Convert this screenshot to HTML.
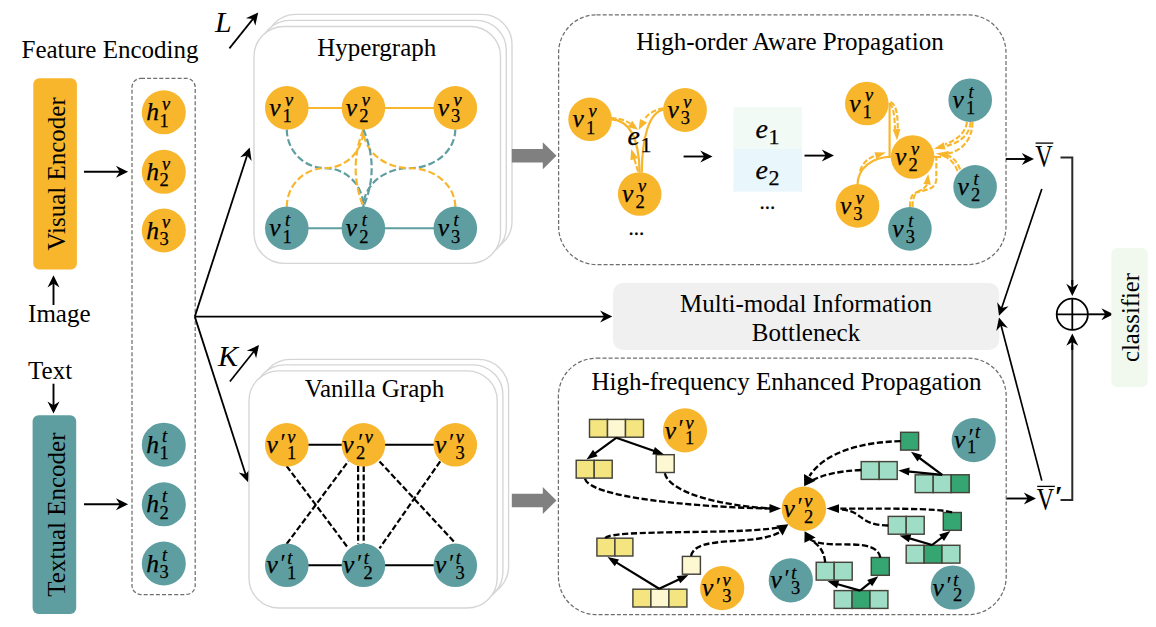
<!DOCTYPE html>
<html><head><meta charset="utf-8"><title>Framework</title>
<style>html,body{margin:0;padding:0;background:#fff}svg{display:block}</style></head>
<body>
<svg width="1156" height="627" viewBox="0 0 1156 627" font-family="'Liberation Serif', serif" fill="#000">
<rect width="1156" height="627" fill="#fff"/>
<text x="21.5" y="57.8" font-size="25">Feature Encoding</text>
<rect x="33.3" y="78.3" width="43.6" height="191.1" rx="6" fill="#F8B62D"/>
<text transform="translate(65.2,173.9) rotate(-90)" text-anchor="middle" font-size="25">Visual Encoder</text>
<rect x="32.6" y="415.2" width="43.6" height="198.8" rx="6" fill="#5F9EA0"/>
<text transform="translate(64.9,514.6) rotate(-90)" text-anchor="middle" font-size="25">Textual Encoder</text>
<rect x="132" y="78.3" width="63.2" height="516.2" rx="9" fill="none" stroke="#6e6e6e" stroke-width="1.25" stroke-dasharray="4,2.1"/>
<circle cx="163.8" cy="112.3" r="22.0" fill="#F8B62D"/>
<text x="146.2" y="120.4" font-size="25.5" font-style="italic" stroke="#000" stroke-width="0.25">h</text>
<text x="162.1" y="110.0" font-size="18.4" font-style="italic" stroke="#000" stroke-width="0.25">v</text>
<text x="159.6" y="126.5" font-size="18.5" stroke="#000" stroke-width="0.25">1</text>
<circle cx="163.8" cy="171.8" r="22.0" fill="#F8B62D"/>
<text x="146.2" y="179.9" font-size="25.5" font-style="italic" stroke="#000" stroke-width="0.25">h</text>
<text x="162.1" y="169.5" font-size="18.4" font-style="italic" stroke="#000" stroke-width="0.25">v</text>
<text x="159.6" y="186.0" font-size="18.5" stroke="#000" stroke-width="0.25">2</text>
<circle cx="163.8" cy="230.5" r="22.0" fill="#F8B62D"/>
<text x="146.2" y="238.6" font-size="25.5" font-style="italic" stroke="#000" stroke-width="0.25">h</text>
<text x="162.1" y="228.2" font-size="18.4" font-style="italic" stroke="#000" stroke-width="0.25">v</text>
<text x="159.6" y="244.7" font-size="18.5" stroke="#000" stroke-width="0.25">3</text>
<circle cx="163.8" cy="444.7" r="22.0" fill="#5F9EA0"/>
<text x="146.2" y="452.8" font-size="25.5" font-style="italic" stroke="#000" stroke-width="0.25">h</text>
<text x="162.1" y="442.4" font-size="18.4" font-style="italic" stroke="#000" stroke-width="0.25">t</text>
<text x="159.6" y="458.9" font-size="18.5" stroke="#000" stroke-width="0.25">1</text>
<circle cx="163.8" cy="504.3" r="22.0" fill="#5F9EA0"/>
<text x="146.2" y="512.4" font-size="25.5" font-style="italic" stroke="#000" stroke-width="0.25">h</text>
<text x="162.1" y="502.0" font-size="18.4" font-style="italic" stroke="#000" stroke-width="0.25">t</text>
<text x="159.6" y="518.5" font-size="18.5" stroke="#000" stroke-width="0.25">2</text>
<circle cx="163.8" cy="563.5" r="22.0" fill="#5F9EA0"/>
<text x="146.2" y="571.6" font-size="25.5" font-style="italic" stroke="#000" stroke-width="0.25">h</text>
<text x="162.1" y="561.2" font-size="18.4" font-style="italic" stroke="#000" stroke-width="0.25">t</text>
<text x="159.6" y="577.7" font-size="18.5" stroke="#000" stroke-width="0.25">3</text>
<line x1="84.0" y1="171.7" x2="120.8" y2="171.7" stroke="#000" stroke-width="2.1"/>
<polygon points="128.1,171.7 115.9,177.7 119.8,171.7 115.9,165.7" fill="#000"/>
<line x1="84.0" y1="504.3" x2="120.8" y2="504.3" stroke="#000" stroke-width="2.1"/>
<polygon points="128.1,504.3 115.9,510.3 119.8,504.3 115.9,498.3" fill="#000"/>
<line x1="53.5" y1="305.0" x2="53.5" y2="282.6" stroke="#000" stroke-width="1.9"/>
<polygon points="53.5,275.3 59.5,287.5 53.5,283.6 47.5,287.5" fill="#000"/>
<text x="28.1" y="321.9" font-size="25">Image</text>
<text x="28.1" y="379.2" font-size="25">Text</text>
<line x1="53.5" y1="383.7" x2="53.5" y2="406.3" stroke="#000" stroke-width="1.9"/>
<polygon points="53.5,413.6 47.5,401.4 53.5,405.3 59.5,401.4" fill="#000"/>
<line x1="194.8" y1="316.6" x2="247.4" y2="154.5" stroke="#000" stroke-width="1.8"/>
<polygon points="249.7,147.5 251.6,161.0 247.1,155.4 240.2,157.3" fill="#000"/>
<line x1="194.8" y1="316.6" x2="245.9" y2="475.2" stroke="#000" stroke-width="1.8"/>
<polygon points="248.1,482.2 238.7,472.4 245.6,474.3 250.1,468.7" fill="#000"/>
<line x1="194.8" y1="316.6" x2="605.0" y2="316.6" stroke="#000" stroke-width="1.8"/>
<polygon points="612.3,316.6 600.1,322.6 604.0,316.6 600.1,310.6" fill="#000"/>
<text x="215.0" y="31.9" font-size="30" font-style="italic">L</text>
<line x1="229.4" y1="48.4" x2="253.6" y2="18.1" stroke="#000" stroke-width="1.7"/>
<polygon points="258.2,12.4 255.3,25.7 253.0,18.9 245.9,18.2" fill="#000"/>
<text x="218.0" y="365.7" font-size="30" font-style="italic">K</text>
<line x1="229.9" y1="381.5" x2="254.4" y2="350.7" stroke="#000" stroke-width="1.7"/>
<polygon points="259.0,345.0 256.1,358.3 253.8,351.5 246.7,350.8" fill="#000"/>
<rect x="265.7" y="14.4" width="246.3" height="236.8" rx="30" fill="#fff" stroke="#d5d5d5" stroke-width="1.35"/>
<rect x="260" y="20.3" width="246.3" height="236.8" rx="30" fill="#fff" stroke="#d5d5d5" stroke-width="1.35"/>
<rect x="254" y="26.5" width="246.5" height="236.8" rx="30" fill="#fff" stroke="#d5d5d5" stroke-width="1.35"/>
<text x="317.3" y="55.6" font-size="25">Hypergraph</text>
<line x1="286.8" y1="107.9" x2="455.3" y2="107.9" stroke="#F8B62D" stroke-width="2"/>
<line x1="286.8" y1="228.3" x2="455.3" y2="228.3" stroke="#5F9EA0" stroke-width="2"/>
<path d="M286.8,129.4 A38.3,38.7 0 0 0 325.1,168.1 A38.3,38.7 0 0 1 363.4,206.8" stroke="#5F9EA0" fill="none" stroke-width="2.2" stroke-dasharray="7,3"/>
<path d="M286.8,206.8 A38.3,38.7 0 0 1 325.1,168.1 A38.3,38.7 0 0 0 363.4,129.4" stroke="#F8B62D" fill="none" stroke-width="2.2" stroke-dasharray="7,3"/>
<path d="M455.3,129.4 A45.9,38.7 0 0 1 409.4,168.1 A46.0,38.7 0 0 0 363.4,206.8" stroke="#5F9EA0" fill="none" stroke-width="2.2" stroke-dasharray="7,3"/>
<path d="M455.3,206.8 A45.9,38.7 0 0 0 409.4,168.1 A46.0,38.7 0 0 1 363.4,129.4" stroke="#F8B62D" fill="none" stroke-width="2.2" stroke-dasharray="7,3"/>
<path d="M363.4,129.4 Q347.9,168.1 363.4,206.8" stroke="#F8B62D" fill="none" stroke-width="2.2" stroke-dasharray="7,3"/>
<path d="M363.4,129.4 Q379.9,168.1 363.4,206.8" stroke="#5F9EA0" fill="none" stroke-width="2.2" stroke-dasharray="7,3"/>
<circle cx="286.8" cy="107.9" r="21.8" fill="#F8B62D"/>
<text x="269.2" y="116.0" font-size="25.5" font-style="italic" stroke="#000" stroke-width="0.25">v</text>
<text x="285.1" y="105.6" font-size="18.4" font-style="italic" stroke="#000" stroke-width="0.25">v</text>
<text x="282.6" y="122.1" font-size="18.5" stroke="#000" stroke-width="0.25">1</text>
<circle cx="286.8" cy="228.3" r="21.8" fill="#5F9EA0"/>
<text x="269.2" y="236.4" font-size="25.5" font-style="italic" stroke="#000" stroke-width="0.25">v</text>
<text x="285.1" y="226.0" font-size="18.4" font-style="italic" stroke="#000" stroke-width="0.25">t</text>
<text x="282.6" y="242.5" font-size="18.5" stroke="#000" stroke-width="0.25">1</text>
<circle cx="363.4" cy="107.9" r="21.8" fill="#F8B62D"/>
<text x="345.8" y="116.0" font-size="25.5" font-style="italic" stroke="#000" stroke-width="0.25">v</text>
<text x="361.7" y="105.6" font-size="18.4" font-style="italic" stroke="#000" stroke-width="0.25">v</text>
<text x="359.2" y="122.1" font-size="18.5" stroke="#000" stroke-width="0.25">2</text>
<circle cx="363.4" cy="228.3" r="21.8" fill="#5F9EA0"/>
<text x="345.8" y="236.4" font-size="25.5" font-style="italic" stroke="#000" stroke-width="0.25">v</text>
<text x="361.7" y="226.0" font-size="18.4" font-style="italic" stroke="#000" stroke-width="0.25">t</text>
<text x="359.2" y="242.5" font-size="18.5" stroke="#000" stroke-width="0.25">2</text>
<circle cx="455.3" cy="107.9" r="21.8" fill="#F8B62D"/>
<text x="437.7" y="116.0" font-size="25.5" font-style="italic" stroke="#000" stroke-width="0.25">v</text>
<text x="453.6" y="105.6" font-size="18.4" font-style="italic" stroke="#000" stroke-width="0.25">v</text>
<text x="451.1" y="122.1" font-size="18.5" stroke="#000" stroke-width="0.25">3</text>
<circle cx="455.3" cy="228.3" r="21.8" fill="#5F9EA0"/>
<text x="437.7" y="236.4" font-size="25.5" font-style="italic" stroke="#000" stroke-width="0.25">v</text>
<text x="453.6" y="226.0" font-size="18.4" font-style="italic" stroke="#000" stroke-width="0.25">t</text>
<text x="451.1" y="242.5" font-size="18.5" stroke="#000" stroke-width="0.25">3</text>
<polygon points="511.8,148.9 542.8,148.9 542.8,142.2 556.5,155.7 542.8,169.2 542.8,162.5 511.8,162.5" fill="#808080"/>
<polygon points="511.8,493.7 542.8,493.7 542.8,487.0 556.5,500.5 542.8,514.0 542.8,507.3 511.8,507.3" fill="#808080"/>
<rect x="558.6" y="14.8" width="447.4" height="249.8" rx="38" fill="none" stroke="#6e6e6e" stroke-width="1.25" stroke-dasharray="4,2.1"/>
<text x="636.3" y="50.2" font-size="25">High-order Aware Propagation</text>
<path d="M611,119.4 C629,120 639,138 639.6,172.5" fill="none" stroke="#F8B62D" stroke-width="2.2"/>
<path d="M663.5,109.6 C649,112 642,138 641.8,172.5" fill="none" stroke="#F8B62D" stroke-width="2.2"/>
<path d="M611,118 C620,118.2 626,120.5 630,123.5" fill="none" stroke="#F8B62D" stroke-width="2.1" stroke-dasharray="5.5,2.2"/>
<polygon points="638.0,129.8 627.6,127.1 632.3,120.7" fill="#F8B62D"/>
<path d="M663.5,108.4 C655,109.5 648.5,113.5 645,118.5" fill="none" stroke="#F8B62D" stroke-width="2.1" stroke-dasharray="5.5,2.2"/>
<polygon points="638.6,130.0 640.0,118.9 647.1,122.6" fill="#F8B62D"/>
<path d="M638,171.5 C636.5,166 635,161 633.6,157" fill="none" stroke="#F8B62D" stroke-width="2.1" stroke-dasharray="5.5,2.2"/>
<polygon points="631.2,149.0 638.0,157.9 630.4,160.2" fill="#F8B62D"/>
<circle cx="590.1" cy="119.3" r="21.8" fill="#F8B62D"/>
<text x="572.5" y="127.4" font-size="25.5" font-style="italic" stroke="#000" stroke-width="0.25">v</text>
<text x="588.4" y="117.0" font-size="18.4" font-style="italic" stroke="#000" stroke-width="0.25">v</text>
<text x="585.9" y="133.5" font-size="18.5" stroke="#000" stroke-width="0.25">1</text>
<circle cx="685.0" cy="110.0" r="21.9" fill="#F8B62D"/>
<text x="667.4" y="118.1" font-size="25.5" font-style="italic" stroke="#000" stroke-width="0.25">v</text>
<text x="683.3" y="107.7" font-size="18.4" font-style="italic" stroke="#000" stroke-width="0.25">v</text>
<text x="680.8" y="124.2" font-size="18.5" stroke="#000" stroke-width="0.25">3</text>
<circle cx="639.7" cy="194.0" r="21.8" fill="#F8B62D"/>
<text x="622.1" y="202.1" font-size="25.5" font-style="italic" stroke="#000" stroke-width="0.25">v</text>
<text x="638.0" y="191.7" font-size="18.4" font-style="italic" stroke="#000" stroke-width="0.25">v</text>
<text x="635.5" y="208.2" font-size="18.5" stroke="#000" stroke-width="0.25">2</text>
<text x="627.6" y="145.4" font-size="28" font-style="italic" stroke="#000" stroke-width="0.25">e</text>
<text x="640.5" y="151.6" font-size="22" stroke="#000" stroke-width="0.25">1</text>
<text x="628.6" y="234.6" font-size="21" stroke="#000" stroke-width="0.25">...</text>
<line x1="683.6" y1="156.5" x2="705.2" y2="156.5" stroke="#000" stroke-width="1.9"/>
<polygon points="712.5,156.5 700.3,162.5 704.2,156.5 700.3,150.5" fill="#000"/>
<rect x="733.5" y="106.9" width="68.5" height="41.8" fill="#F1FAF4"/>
<rect x="733.5" y="148.6" width="68.5" height="43" fill="#E9F6FC"/>
<text x="755.4" y="137.5" font-size="28" font-style="italic" stroke="#000" stroke-width="0.25">e</text>
<text x="768.4" y="143.7" font-size="22" stroke="#000" stroke-width="0.25">1</text>
<text x="755.4" y="179.4" font-size="28" font-style="italic" stroke="#000" stroke-width="0.25">e</text>
<text x="768.4" y="185.4" font-size="22" stroke="#000" stroke-width="0.25">2</text>
<text x="759.6" y="208.6" font-size="21" stroke="#000" stroke-width="0.25">...</text>
<line x1="804.5" y1="155.6" x2="826.7" y2="155.6" stroke="#000" stroke-width="1.9"/>
<polygon points="834.0,155.6 821.8,161.6 825.7,155.6 821.8,149.6" fill="#000"/>
<path d="M889.6,103 L889.6,157.5" fill="none" stroke="#F8B62D" stroke-width="2.2"/>
<path d="M892,156.6 C872,157 857.6,168 857.5,185" fill="none" stroke="#F8B62D" stroke-width="2.2"/>
<path d="M889.5,103.5 C893.5,106 894.6,116 895,129" fill="none" stroke="#F8B62D" stroke-width="2.1" stroke-dasharray="5.5,2.2"/>
<path d="M890.5,102 C897,105 897.6,116 897.8,129" fill="none" stroke="#F8B62D" stroke-width="2.1" stroke-dasharray="5.5,2.2"/>
<polygon points="897.0,140.6 892.7,129.2 900.5,129.0" fill="#F8B62D"/>
<path d="M860,171 C862.5,163 868,158 876,155.6" fill="none" stroke="#F8B62D" stroke-width="2.1" stroke-dasharray="5.5,2.2"/>
<polygon points="886.0,152.6 876.4,159.0 874.5,152.2" fill="#F8B62D"/>
<path d="M970.6,122 C969.5,137 957,143.5 945,146.4" fill="none" stroke="#F8B62D" stroke-width="2.1" stroke-dasharray="5.5,2.2"/>
<path d="M967,122 C965.5,134 955,141 945,144.2" fill="none" stroke="#F8B62D" stroke-width="2.1" stroke-dasharray="5.5,2.2"/>
<polygon points="934.0,148.8 943.7,142.3 945.6,149.6" fill="#F8B62D"/>
<path d="M972.5,122 C972.5,141 960,151.5 948,153.4" fill="none" stroke="#F8B62D" stroke-width="2.1" stroke-dasharray="5.5,2.2"/>
<path d="M960.2,169.5 C957.5,162 953,157.5 948,155.6" fill="none" stroke="#F8B62D" stroke-width="2.1" stroke-dasharray="5.5,2.2"/>
<path d="M957.6,171 C955,164.5 951.5,160.5 947.5,158" fill="none" stroke="#F8B62D" stroke-width="2.1" stroke-dasharray="5.5,2.2"/>
<polygon points="935.8,153.4 948.7,151.1 947.7,159.0" fill="#F8B62D"/>
<path d="M934,157 H941" fill="none" stroke="#F8B62D" stroke-width="2.2"/>
<path d="M910,207 C910,200 911,197 913,194.5 C918,189 934.5,193 936.3,180 L936.3,158" fill="none" stroke="#F8B62D" stroke-width="2.1" stroke-dasharray="5.5,2.2"/>
<path d="M912.5,207 C912.5,200 914,195 917,192.5 C922,189 926.5,188 927.3,183" fill="none" stroke="#F8B62D" stroke-width="2.1" stroke-dasharray="5.5,2.2"/>
<polygon points="928.2,174.0 930.9,184.8 923.4,184.1" fill="#F8B62D"/>
<circle cx="866.8" cy="103.5" r="21.8" fill="#F8B62D"/>
<text x="849.2" y="111.6" font-size="25.5" font-style="italic" stroke="#000" stroke-width="0.25">v</text>
<text x="865.1" y="101.2" font-size="18.4" font-style="italic" stroke="#000" stroke-width="0.25">v</text>
<text x="862.6" y="117.7" font-size="18.5" stroke="#000" stroke-width="0.25">1</text>
<circle cx="912.6" cy="157.0" r="21.8" fill="#F8B62D"/>
<text x="895.0" y="165.1" font-size="25.5" font-style="italic" stroke="#000" stroke-width="0.25">v</text>
<text x="910.9" y="154.7" font-size="18.4" font-style="italic" stroke="#000" stroke-width="0.25">v</text>
<text x="908.4" y="171.2" font-size="18.5" stroke="#000" stroke-width="0.25">2</text>
<circle cx="857.5" cy="205.9" r="21.8" fill="#F8B62D"/>
<text x="839.9" y="214.0" font-size="25.5" font-style="italic" stroke="#000" stroke-width="0.25">v</text>
<text x="855.8" y="203.6" font-size="18.4" font-style="italic" stroke="#000" stroke-width="0.25">v</text>
<text x="853.3" y="220.1" font-size="18.5" stroke="#000" stroke-width="0.25">3</text>
<circle cx="970.2" cy="100.2" r="21.8" fill="#5F9EA0"/>
<text x="952.6" y="108.3" font-size="25.5" font-style="italic" stroke="#000" stroke-width="0.25">v</text>
<text x="968.5" y="97.9" font-size="18.4" font-style="italic" stroke="#000" stroke-width="0.25">t</text>
<text x="966.0" y="114.4" font-size="18.5" stroke="#000" stroke-width="0.25">1</text>
<circle cx="975.1" cy="186.8" r="21.8" fill="#5F9EA0"/>
<text x="957.5" y="194.9" font-size="25.5" font-style="italic" stroke="#000" stroke-width="0.25">v</text>
<text x="973.4" y="184.5" font-size="18.4" font-style="italic" stroke="#000" stroke-width="0.25">t</text>
<text x="970.9" y="201.0" font-size="18.5" stroke="#000" stroke-width="0.25">2</text>
<circle cx="909.9" cy="228.9" r="21.8" fill="#5F9EA0"/>
<text x="892.3" y="237.0" font-size="25.5" font-style="italic" stroke="#000" stroke-width="0.25">v</text>
<text x="908.2" y="226.6" font-size="18.4" font-style="italic" stroke="#000" stroke-width="0.25">t</text>
<text x="905.7" y="243.1" font-size="18.5" stroke="#000" stroke-width="0.25">3</text>
<rect x="613" y="283" width="386.2" height="67" rx="10" fill="#F0F0F0"/>
<text x="806.0" y="312.1" font-size="25" text-anchor="middle">Multi-modal Information</text>
<text x="806.0" y="341.2" font-size="25" text-anchor="middle">Bottleneck</text>
<line x1="1006.0" y1="159.0" x2="1026.7" y2="159.0" stroke="#000" stroke-width="1.9"/>
<polygon points="1034.0,159.0 1021.8,165.0 1025.7,159.0 1021.8,153.0" fill="#000"/>
<text transform="translate(1035.2,166.9) scale(0.775,1)" font-size="31">V</text>
<line x1="1035.6" y1="143.1" x2="1053.3" y2="143.1" stroke="#000" stroke-width="1.3"/>
<text transform="translate(1036.8,510.2) scale(0.775,1)" font-size="31">V</text>
<line x1="1037.2" y1="486.4" x2="1054.9" y2="486.4" stroke="#000" stroke-width="1.3"/>
<text x="1054.8" y="506.1" font-size="29" font-weight="bold">′</text>
<path d="M1060.5,157.4 H1072.3 V285" fill="none" stroke="#2a2a2a" stroke-width="2"/>
<line x1="1072.3" y1="280.0" x2="1072.3" y2="288.7" stroke="#000" stroke-width="1.9"/>
<polygon points="1072.3,296.0 1066.3,283.8 1072.3,287.7 1078.3,283.8" fill="#000"/>
<path d="M1060.5,499.9 H1072.3 V345" fill="none" stroke="#2a2a2a" stroke-width="2"/>
<line x1="1072.3" y1="350.0" x2="1072.3" y2="340.9" stroke="#000" stroke-width="1.9"/>
<polygon points="1072.3,333.6 1078.3,345.8 1072.3,341.9 1066.3,345.8" fill="#000"/>
<circle cx="1072.3" cy="314.3" r="15.6" fill="none" stroke="#000" stroke-width="1.8"/>
<path d="M1056.7,314.3 H1088 M1072.3,298.7 V330" stroke="#000" stroke-width="1.8" fill="none"/>
<line x1="1088.0" y1="314.3" x2="1106.3" y2="314.3" stroke="#000" stroke-width="1.9"/>
<polygon points="1113.6,314.3 1101.4,320.3 1105.3,314.3 1101.4,308.3" fill="#000"/>
<rect x="1111.3" y="247.9" width="36.4" height="139" rx="6" fill="#F1F8EE"/>
<text transform="translate(1139.2,317.5) rotate(-90)" text-anchor="middle" font-size="24.6">classifier</text>
<line x1="1041.8" y1="189.0" x2="1001.3" y2="308.9" stroke="#000" stroke-width="1.7"/>
<polygon points="999.0,315.8 997.2,302.3 1001.7,307.9 1008.6,306.2" fill="#000"/>
<line x1="1041.8" y1="480.6" x2="1000.9" y2="324.7" stroke="#000" stroke-width="1.7"/>
<polygon points="999.0,317.6 1007.9,327.9 1001.1,325.6 996.3,330.9" fill="#000"/>
<line x1="1006.0" y1="498.5" x2="1028.7" y2="498.5" stroke="#000" stroke-width="1.9"/>
<polygon points="1036.0,498.5 1023.8,504.5 1027.7,498.5 1023.8,492.5" fill="#000"/>
<rect x="260.4" y="359.4" width="248.2" height="237.2" rx="30" fill="#fff" stroke="#d5d5d5" stroke-width="1.35"/>
<rect x="254.7" y="364.8" width="248.2" height="237.2" rx="30" fill="#fff" stroke="#d5d5d5" stroke-width="1.35"/>
<rect x="249" y="370.8" width="248.2" height="237.2" rx="30" fill="#fff" stroke="#d5d5d5" stroke-width="1.35"/>
<text x="304.7" y="397.0" font-size="25">Vanilla Graph</text>
<line x1="286.8" y1="444.8" x2="455.3" y2="444.8" stroke="#000" stroke-width="2"/>
<line x1="286.8" y1="565.3" x2="455.3" y2="565.3" stroke="#000" stroke-width="2"/>
<line x1="286.6" y1="466.0" x2="348.5" y2="548.5" stroke="#000" stroke-width="2.2" stroke-dasharray="6,2.6"/>
<line x1="286.6" y1="544.0" x2="348.5" y2="461.0" stroke="#000" stroke-width="2.2" stroke-dasharray="6,2.6"/>
<line x1="358.1" y1="466.0" x2="358.1" y2="544.0" stroke="#000" stroke-width="2.2" stroke-dasharray="6,2.6"/>
<line x1="363.7" y1="466.0" x2="363.7" y2="544.0" stroke="#000" stroke-width="2.2" stroke-dasharray="6,2.6"/>
<line x1="379.5" y1="461.4" x2="455.2" y2="543.0" stroke="#000" stroke-width="2.2" stroke-dasharray="6,2.6"/>
<line x1="440.2" y1="461.4" x2="379.5" y2="548.4" stroke="#000" stroke-width="2.2" stroke-dasharray="6,2.6"/>
<circle cx="286.8" cy="444.8" r="21.8" fill="#F8B62D"/>
<text x="266.5" y="452.9" font-size="25.5" font-style="italic" stroke="#000" stroke-width="0.25">v</text>
<text x="280.4" y="451.3" font-size="25">′</text>
<text x="287.2" y="443.0" font-size="18.4" font-style="italic" stroke="#000" stroke-width="0.25">v</text>
<text x="286.9" y="458.7" font-size="18.5" stroke="#000" stroke-width="0.25">1</text>
<circle cx="363.4" cy="444.8" r="21.8" fill="#F8B62D"/>
<text x="342.3" y="452.9" font-size="25.5" font-style="italic" stroke="#000" stroke-width="0.25">v</text>
<text x="356.0" y="458.7" font-size="18.5" stroke="#000" stroke-width="0.25">2</text>
<text x="356.6" y="451.2" font-size="25" font-style="italic">′</text>
<text x="364.8" y="443.0" font-size="18.4" font-style="italic" stroke="#000" stroke-width="0.25">v</text>
<circle cx="455.3" cy="444.8" r="21.8" fill="#F8B62D"/>
<text x="435.0" y="452.9" font-size="25.5" font-style="italic" stroke="#000" stroke-width="0.25">v</text>
<text x="448.9" y="451.3" font-size="25">′</text>
<text x="455.7" y="443.0" font-size="18.4" font-style="italic" stroke="#000" stroke-width="0.25">v</text>
<text x="455.4" y="458.7" font-size="18.5" stroke="#000" stroke-width="0.25">3</text>
<circle cx="286.8" cy="565.3" r="21.8" fill="#5F9EA0"/>
<text x="266.5" y="573.4" font-size="25.5" font-style="italic" stroke="#000" stroke-width="0.25">v</text>
<text x="280.4" y="571.8" font-size="25">′</text>
<text x="287.2" y="563.5" font-size="18.4" font-style="italic" stroke="#000" stroke-width="0.25">t</text>
<text x="286.9" y="579.2" font-size="18.5" stroke="#000" stroke-width="0.25">1</text>
<circle cx="363.4" cy="565.3" r="21.8" fill="#5F9EA0"/>
<text x="343.1" y="573.4" font-size="25.5" font-style="italic" stroke="#000" stroke-width="0.25">v</text>
<text x="357.0" y="571.8" font-size="25">′</text>
<text x="363.8" y="563.5" font-size="18.4" font-style="italic" stroke="#000" stroke-width="0.25">t</text>
<text x="363.5" y="579.2" font-size="18.5" stroke="#000" stroke-width="0.25">2</text>
<circle cx="455.3" cy="565.3" r="21.8" fill="#5F9EA0"/>
<text x="435.0" y="573.4" font-size="25.5" font-style="italic" stroke="#000" stroke-width="0.25">v</text>
<text x="448.9" y="571.8" font-size="25">′</text>
<text x="455.7" y="563.5" font-size="18.4" font-style="italic" stroke="#000" stroke-width="0.25">t</text>
<text x="455.4" y="579.2" font-size="18.5" stroke="#000" stroke-width="0.25">3</text>
<rect x="558.4" y="358.2" width="447.8" height="256.4" rx="38" fill="none" stroke="#6e6e6e" stroke-width="1.25" stroke-dasharray="4,2.1"/>
<text x="591.4" y="390.2" font-size="25">High-frequency Enhanced Propagation</text>
<rect x="589.5" y="419.4" width="18.0" height="17.8" fill="#F5E580" stroke="#45443a" stroke-width="1.45"/>
<rect x="607.5" y="419.4" width="18.0" height="17.8" fill="#FDF7D2" stroke="#45443a" stroke-width="1.45"/>
<rect x="625.5" y="419.4" width="18.0" height="17.8" fill="#F5E580" stroke="#45443a" stroke-width="1.45"/>
<rect x="576.2" y="460.3" width="18.0" height="17.8" fill="#F5E580" stroke="#45443a" stroke-width="1.45"/>
<rect x="594.2" y="460.3" width="18.0" height="17.8" fill="#F5E580" stroke="#45443a" stroke-width="1.45"/>
<rect x="656.2" y="454.7" width="18.0" height="17.8" fill="#FDF7D2" stroke="#45443a" stroke-width="1.45"/>
<line x1="616.2" y1="437.8" x2="593.6" y2="454.3" stroke="#000" stroke-width="2.2"/>
<polygon points="586.5,459.5 593.0,449.8 597.7,456.2" fill="#000"/>
<line x1="616.2" y1="437.8" x2="655.7" y2="451.5" stroke="#000" stroke-width="2.2"/>
<polygon points="664.0,454.4 652.3,454.6 654.9,447.0" fill="#000"/>
<path d="M585,478.8 C590,497 690,507 771,508.5" fill="none" stroke="#000" stroke-width="2.35" stroke-dasharray="6.2,2.6"/>
<path d="M664.8,473.2 C670,494 725,506 771,508.5" fill="none" stroke="#000" stroke-width="2.35" stroke-dasharray="6.2,2.6"/>
<polygon points="781.0,508.5 769.5,512.9 769.5,504.1" fill="#000"/>
<rect x="596.9" y="538.2" width="18.0" height="17.8" fill="#F5E580" stroke="#45443a" stroke-width="1.45"/>
<rect x="614.9" y="538.2" width="18.0" height="17.8" fill="#F5E580" stroke="#45443a" stroke-width="1.45"/>
<rect x="682.4" y="556.4" width="18.0" height="17.8" fill="#FDF7D2" stroke="#45443a" stroke-width="1.45"/>
<rect x="632.9" y="589.2" width="18.0" height="17.8" fill="#F5E580" stroke="#45443a" stroke-width="1.45"/>
<rect x="650.9" y="589.2" width="18.0" height="17.8" fill="#FDF7D2" stroke="#45443a" stroke-width="1.45"/>
<rect x="668.9" y="589.2" width="18.0" height="17.8" fill="#F5E580" stroke="#45443a" stroke-width="1.45"/>
<line x1="659.2" y1="588.8" x2="615.0" y2="561.6" stroke="#000" stroke-width="2.2"/>
<polygon points="607.5,557.0 619.0,559.4 614.8,566.2" fill="#000"/>
<line x1="659.2" y1="588.8" x2="680.4" y2="578.8" stroke="#000" stroke-width="2.2"/>
<polygon points="688.4,575.0 680.2,583.3 676.7,576.1" fill="#000"/>
<path d="M605.2,538 C613,529 735,535 778,527.6" fill="none" stroke="#000" stroke-width="2.35" stroke-dasharray="6.2,2.6"/>
<path d="M691.1,556 C695,534 755,547 780,532" fill="none" stroke="#000" stroke-width="2.35" stroke-dasharray="6.2,2.6"/>
<polygon points="788.3,524.2 776.3,525.6 782.6,535.6" fill="#000"/>
<rect x="900.6" y="432.3" width="18.0" height="17.8" fill="#35A671" stroke="#45443a" stroke-width="1.45"/>
<rect x="861.2" y="461.6" width="18.0" height="17.8" fill="#9FDDC6" stroke="#45443a" stroke-width="1.45"/>
<rect x="879.2" y="461.6" width="18.0" height="17.8" fill="#9FDDC6" stroke="#45443a" stroke-width="1.45"/>
<rect x="915.2" y="474.8" width="18.0" height="17.8" fill="#9FDDC6" stroke="#45443a" stroke-width="1.45"/>
<rect x="933.2" y="474.8" width="18.0" height="17.8" fill="#9FDDC6" stroke="#45443a" stroke-width="1.45"/>
<rect x="951.2" y="474.8" width="18.0" height="17.8" fill="#35A671" stroke="#45443a" stroke-width="1.45"/>
<line x1="942.2" y1="474.8" x2="918.1" y2="457.0" stroke="#000" stroke-width="2.2"/>
<polygon points="911.0,451.8 922.2,455.1 917.5,461.5" fill="#000"/>
<line x1="942.2" y1="474.8" x2="907.1" y2="471.4" stroke="#000" stroke-width="2.2"/>
<polygon points="898.3,470.5 909.6,467.6 908.9,475.6" fill="#000"/>
<path d="M900.6,441.2 C860,442 824,453 809.5,476" fill="none" stroke="#000" stroke-width="2.35" stroke-dasharray="6.2,2.6"/>
<path d="M861.2,470 C838,471 822,475 811,481" fill="none" stroke="#000" stroke-width="2.35" stroke-dasharray="6.2,2.6"/>
<polygon points="804.2,486.3 804,474 815.6,480.8" fill="#000"/>
<rect x="888.2" y="516.4" width="18.0" height="17.8" fill="#9FDDC6" stroke="#45443a" stroke-width="1.45"/>
<rect x="906.2" y="516.4" width="18.0" height="17.8" fill="#9FDDC6" stroke="#45443a" stroke-width="1.45"/>
<rect x="943.3" y="512.5" width="18.0" height="17.8" fill="#35A671" stroke="#45443a" stroke-width="1.45"/>
<rect x="906.2" y="545.3" width="17.9" height="17.8" fill="#9FDDC6" stroke="#45443a" stroke-width="1.45"/>
<rect x="924.1" y="545.3" width="17.9" height="17.8" fill="#35A671" stroke="#45443a" stroke-width="1.45"/>
<rect x="942.0" y="545.3" width="17.9" height="17.8" fill="#9FDDC6" stroke="#45443a" stroke-width="1.45"/>
<line x1="932.1" y1="545.0" x2="907.9" y2="537.9" stroke="#000" stroke-width="2.2"/>
<polygon points="899.5,535.4 911.2,534.7 908.9,542.3" fill="#000"/>
<line x1="932.1" y1="545.0" x2="943.3" y2="536.4" stroke="#000" stroke-width="2.2"/>
<polygon points="950.3,531.0 944.0,540.9 939.1,534.5" fill="#000"/>
<path d="M952,512.4 C940,508 880,508.6 836,508.6" fill="none" stroke="#000" stroke-width="2.35" stroke-dasharray="6.2,2.6"/>
<path d="M888.2,525.5 C858,525 864,511.5 842,509.6" fill="none" stroke="#000" stroke-width="2.35" stroke-dasharray="6.2,2.6"/>
<polygon points="826.5,508.6 839.0,504.2 839.0,513.0" fill="#000"/>
<rect x="816.2" y="562.3" width="18.0" height="17.8" fill="#9FDDC6" stroke="#45443a" stroke-width="1.45"/>
<rect x="834.2" y="562.3" width="18.0" height="17.8" fill="#9FDDC6" stroke="#45443a" stroke-width="1.45"/>
<rect x="871.3" y="557.5" width="18.0" height="17.8" fill="#35A671" stroke="#45443a" stroke-width="1.45"/>
<rect x="834.2" y="590.6" width="17.9" height="17.8" fill="#9FDDC6" stroke="#45443a" stroke-width="1.45"/>
<rect x="852.1" y="590.6" width="17.9" height="17.8" fill="#35A671" stroke="#45443a" stroke-width="1.45"/>
<rect x="870.0" y="590.6" width="17.9" height="17.8" fill="#9FDDC6" stroke="#45443a" stroke-width="1.45"/>
<line x1="860.1" y1="590.6" x2="836.0" y2="583.7" stroke="#000" stroke-width="2.2"/>
<polygon points="827.5,581.3 839.2,580.5 837.0,588.2" fill="#000"/>
<line x1="860.1" y1="590.6" x2="871.4" y2="581.7" stroke="#000" stroke-width="2.2"/>
<polygon points="878.3,576.2 872.2,586.2 867.2,579.9" fill="#000"/>
<path d="M825.2,562.3 C824,549 817,544 810.5,539.5" fill="none" stroke="#000" stroke-width="2.35" stroke-dasharray="6.2,2.6"/>
<path d="M880.3,557.5 C876,536 832,550 812,540.5" fill="none" stroke="#000" stroke-width="2.35" stroke-dasharray="6.2,2.6"/>
<polygon points="804.6,531.2 804.4,542.8 815.6,537.4" fill="#000"/>
<circle cx="685.0" cy="430.4" r="22.1" fill="#F8B62D"/>
<text x="664.7" y="438.5" font-size="25.5" font-style="italic" stroke="#000" stroke-width="0.25">v</text>
<text x="678.6" y="436.9" font-size="25">′</text>
<text x="685.4" y="428.6" font-size="18.4" font-style="italic" stroke="#000" stroke-width="0.25">v</text>
<text x="685.1" y="444.3" font-size="18.5" stroke="#000" stroke-width="0.25">1</text>
<circle cx="803.9" cy="508.8" r="22.2" fill="#F8B62D"/>
<text x="783.6" y="516.9" font-size="25.5" font-style="italic" stroke="#000" stroke-width="0.25">v</text>
<text x="797.5" y="515.3" font-size="25">′</text>
<text x="804.3" y="507.0" font-size="18.4" font-style="italic" stroke="#000" stroke-width="0.25">v</text>
<text x="804.0" y="522.7" font-size="18.5" stroke="#000" stroke-width="0.25">2</text>
<circle cx="722.2" cy="588.2" r="22.1" fill="#F8B62D"/>
<text x="701.9" y="596.3" font-size="25.5" font-style="italic" stroke="#000" stroke-width="0.25">v</text>
<text x="715.8" y="594.7" font-size="25">′</text>
<text x="722.6" y="586.4" font-size="18.4" font-style="italic" stroke="#000" stroke-width="0.25">v</text>
<text x="722.3" y="602.1" font-size="18.5" stroke="#000" stroke-width="0.25">3</text>
<circle cx="973.7" cy="440.1" r="22.1" fill="#5F9EA0"/>
<text x="954.1" y="447.8" font-size="25.5" font-style="italic" stroke="#000" stroke-width="0.25">v</text>
<text x="966.9" y="452.6" font-size="18.5" stroke="#000" stroke-width="0.25">1</text>
<text x="967.1" y="446.3" font-size="25" font-style="italic">′</text>
<text x="975.1" y="437.9" font-size="18.4" font-style="italic" stroke="#000" stroke-width="0.25">t</text>
<circle cx="790.8" cy="580.3" r="22.1" fill="#5F9EA0"/>
<text x="770.5" y="588.4" font-size="25.5" font-style="italic" stroke="#000" stroke-width="0.25">v</text>
<text x="784.4" y="586.8" font-size="25">′</text>
<text x="791.2" y="578.5" font-size="18.4" font-style="italic" stroke="#000" stroke-width="0.25">t</text>
<text x="790.9" y="594.2" font-size="18.5" stroke="#000" stroke-width="0.25">3</text>
<circle cx="952.8" cy="587.5" r="22.1" fill="#5F9EA0"/>
<text x="932.5" y="595.6" font-size="25.5" font-style="italic" stroke="#000" stroke-width="0.25">v</text>
<text x="946.4" y="594.0" font-size="25">′</text>
<text x="953.2" y="585.7" font-size="18.4" font-style="italic" stroke="#000" stroke-width="0.25">t</text>
<text x="952.9" y="601.4" font-size="18.5" stroke="#000" stroke-width="0.25">2</text>
</svg>
</body></html>
